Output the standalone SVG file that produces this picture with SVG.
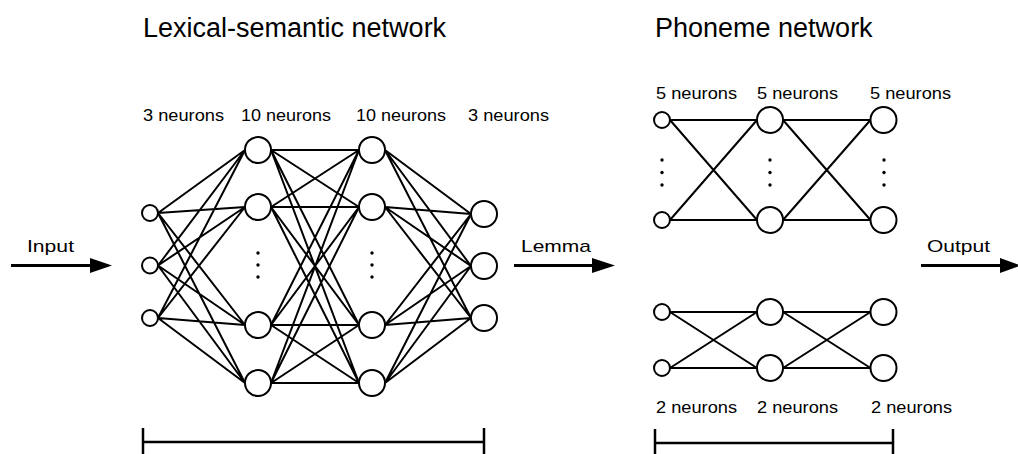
<svg xmlns="http://www.w3.org/2000/svg" width="1018" height="454" viewBox="0 0 1018 454">
  <style>
    .bg { fill: #ffffff; }
    .node { fill: #ffffff; stroke: #000000; stroke-width: 2; }
    .edge { stroke: #000000; stroke-width: 2; fill: none; }
    .dot { fill: #000000; }
    .arrow-line { stroke: #000000; stroke-width: 3; fill: none; }
    .arrow-head { fill: #000000; }
    .bracket { stroke: #000000; stroke-width: 2.5; fill: none; }
    text { font-family: "Liberation Sans", Arial, Helvetica, sans-serif; fill: #000000; }
    .title { font-size: 27px; }
    .label { font-size: 16px; }
    .io { font-size: 17px; }
  </style>
  <rect class="bg" x="0" y="0" width="1018" height="454"/>

  <!-- titles -->
  <text class="title" x="143" y="37">Lexical-semantic network</text>
  <text class="title" x="655" y="37">Phoneme network</text>

  <!-- layer size labels -->
  <g id="layer-labels">
    <text class="label" x="143" y="120.5" textLength="81" lengthAdjust="spacingAndGlyphs">3 neurons</text>
    <text class="label" x="241" y="120.5" textLength="90" lengthAdjust="spacingAndGlyphs">10 neurons</text>
    <text class="label" x="356" y="120.5" textLength="90" lengthAdjust="spacingAndGlyphs">10 neurons</text>
    <text class="label" x="468" y="120.5" textLength="81" lengthAdjust="spacingAndGlyphs">3 neurons</text>
    <text class="label" x="656" y="98.5" textLength="81" lengthAdjust="spacingAndGlyphs">5 neurons</text>
    <text class="label" x="757" y="98.5" textLength="81" lengthAdjust="spacingAndGlyphs">5 neurons</text>
    <text class="label" x="870" y="98.5" textLength="81" lengthAdjust="spacingAndGlyphs">5 neurons</text>
    <text class="label" x="656" y="413" textLength="81" lengthAdjust="spacingAndGlyphs">2 neurons</text>
    <text class="label" x="757" y="413" textLength="81" lengthAdjust="spacingAndGlyphs">2 neurons</text>
    <text class="label" x="871" y="413" textLength="81" lengthAdjust="spacingAndGlyphs">2 neurons</text>
  </g>

  <!-- connectors -->
  <g id="connectors">
    <!-- lexical: layer 1 -> layer 2 -->
    <path class="edge" d="M158 213L245 150M158 213L245 207M158 213L245 325M158 213L245 383
                          M158 265.5L245 150M158 265.5L245 207M158 265.5L245 325M158 265.5L245 383
                          M158 318L245 150M158 318L245 207M158 318L245 325M158 318L245 383"/>
    <!-- lexical: layer 2 -> layer 3 -->
    <path class="edge" d="M271 150L359 150M271 150L359 207M271 150L359 325M271 150L359 383
                          M271 207L359 150M271 207L359 207M271 207L359 325M271 207L359 383
                          M271 325L359 150M271 325L359 207M271 325L359 325M271 325L359 383
                          M271 383L359 150M271 383L359 207M271 383L359 325M271 383L359 383"/>
    <!-- lexical: layer 3 -> layer 4 -->
    <path class="edge" d="M385 150L471 214M385 150L471 266M385 150L471 318
                          M385 207L471 214M385 207L471 266M385 207L471 318
                          M385 325L471 214M385 325L471 266M385 325L471 318
                          M385 383L471 214M385 383L471 266M385 383L471 318"/>
    <!-- phoneme, 5-neuron part -->
    <path class="edge" d="M670 120L757 120M670 120L757 220M670 220L757 120M670 220L757 220
                          M783 120L870.5 120M783 120L870.5 220M783 220L870.5 120M783 220L870.5 220"/>
    <!-- phoneme, 2-neuron part -->
    <path class="edge" d="M670 312L757 312M670 312L757 368M670 368L757 312M670 368L757 368
                          M783 312L870.5 312M783 312L870.5 368M783 368L870.5 312M783 368L870.5 368"/>

    <!-- flow arrows -->
    <line class="arrow-line" x1="11" y1="265.5" x2="92" y2="265.5"/>
    <polygon class="arrow-head" points="90,258 112,265.5 90,273"/>
    <line class="arrow-line" x1="514" y1="265.5" x2="594" y2="265.5"/>
    <polygon class="arrow-head" points="592,258 615,265.5 592,273"/>
    <line class="arrow-line" x1="921" y1="265.5" x2="1002" y2="265.5"/>
    <polygon class="arrow-head" points="1000,258 1021,265.5 1000,273"/>
  </g>

  <!-- arrow labels -->
  <text class="io" x="27" y="251.5" textLength="47" lengthAdjust="spacingAndGlyphs">Input</text>
  <text class="io" x="521" y="251.5" textLength="70" lengthAdjust="spacingAndGlyphs">Lemma</text>
  <text class="io" x="927" y="251.5" textLength="63" lengthAdjust="spacingAndGlyphs">Output</text>

  <!-- lexical-semantic network nodes -->
  <g id="lex-in-1"><circle class="node" cx="150" cy="213" r="8"/></g>
  <g id="lex-in-2"><circle class="node" cx="150" cy="265.5" r="8"/></g>
  <g id="lex-in-3"><circle class="node" cx="150" cy="318" r="8"/></g>

  <g id="lex-h1-1"><circle class="node" cx="258" cy="150" r="13"/></g>
  <g id="lex-h1-2"><circle class="node" cx="258" cy="207" r="13"/></g>
  <g id="lex-h1-3"><circle class="node" cx="258" cy="325" r="13"/></g>
  <g id="lex-h1-4"><circle class="node" cx="258" cy="383" r="13"/></g>
  <g id="lex-h1-dots">
    <circle class="dot" cx="258" cy="253" r="1.7"/>
    <circle class="dot" cx="258" cy="265" r="1.7"/>
    <circle class="dot" cx="258" cy="277" r="1.7"/>
  </g>

  <g id="lex-h2-1"><circle class="node" cx="372" cy="150" r="13"/></g>
  <g id="lex-h2-2"><circle class="node" cx="372" cy="207" r="13"/></g>
  <g id="lex-h2-3"><circle class="node" cx="372" cy="325" r="13"/></g>
  <g id="lex-h2-4"><circle class="node" cx="372" cy="383" r="13"/></g>
  <g id="lex-h2-dots">
    <circle class="dot" cx="372" cy="253" r="1.7"/>
    <circle class="dot" cx="372" cy="265" r="1.7"/>
    <circle class="dot" cx="372" cy="277" r="1.7"/>
  </g>

  <g id="lex-out-1"><circle class="node" cx="484" cy="214" r="13"/></g>
  <g id="lex-out-2"><circle class="node" cx="484" cy="266" r="13"/></g>
  <g id="lex-out-3"><circle class="node" cx="484" cy="318" r="13"/></g>

  <!-- phoneme network, 5-neuron part -->
  <g id="pho5-in-1"><circle class="node" cx="662" cy="120" r="8"/></g>
  <g id="pho5-in-2"><circle class="node" cx="662" cy="220" r="8"/></g>
  <g id="pho5-in-dots">
    <circle class="dot" cx="662" cy="160" r="1.7"/>
    <circle class="dot" cx="662" cy="172.5" r="1.7"/>
    <circle class="dot" cx="662" cy="185" r="1.7"/>
  </g>
  <g id="pho5-mid-1"><circle class="node" cx="770" cy="120" r="13"/></g>
  <g id="pho5-mid-2"><circle class="node" cx="770" cy="220" r="13"/></g>
  <g id="pho5-mid-dots">
    <circle class="dot" cx="770" cy="160" r="1.7"/>
    <circle class="dot" cx="770" cy="172.5" r="1.7"/>
    <circle class="dot" cx="770" cy="185" r="1.7"/>
  </g>
  <g id="pho5-out-1"><circle class="node" cx="883.5" cy="120" r="13"/></g>
  <g id="pho5-out-2"><circle class="node" cx="883.5" cy="220" r="13"/></g>
  <g id="pho5-out-dots">
    <circle class="dot" cx="884" cy="160" r="1.7"/>
    <circle class="dot" cx="884" cy="172.5" r="1.7"/>
    <circle class="dot" cx="884" cy="185" r="1.7"/>
  </g>

  <!-- phoneme network, 2-neuron part -->
  <g id="pho2-in-1"><circle class="node" cx="662" cy="312" r="8"/></g>
  <g id="pho2-in-2"><circle class="node" cx="662" cy="368" r="8"/></g>
  <g id="pho2-mid-1"><circle class="node" cx="770" cy="312" r="13"/></g>
  <g id="pho2-mid-2"><circle class="node" cx="770" cy="368" r="13"/></g>
  <g id="pho2-out-1"><circle class="node" cx="883.5" cy="312" r="13"/></g>
  <g id="pho2-out-2"><circle class="node" cx="883.5" cy="368" r="13"/></g>

  <!-- span brackets -->
  <path class="bracket" d="M143 442H484M143 428V456M484 428V456"/>
  <path class="bracket" d="M655 443H893M655 429V456M893 429V456"/>
</svg>
